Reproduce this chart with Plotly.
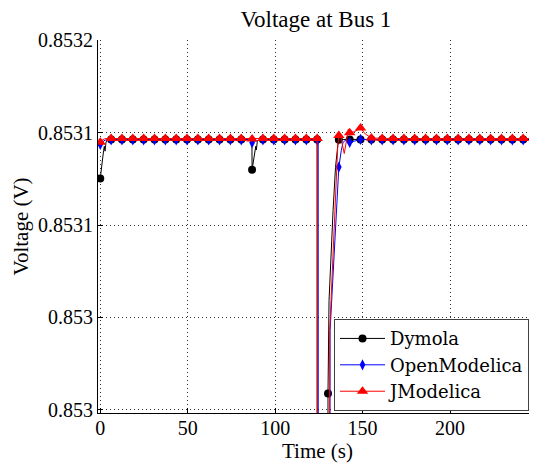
import plotly.graph_objects as go

# ---------------- data ----------------
T_MARK = [0.0, 6.2, 12.4, 18.6, 24.8, 31.0, 37.2, 43.4, 49.6, 55.8, 62.0, 68.2, 74.4, 80.6,
          86.8, 93.0, 99.2, 105.4, 111.6, 117.8, 124.0, 130.2, 136.4, 142.6, 148.8, 155.0,
          161.2, 167.4, 173.6, 179.8, 186.0, 192.2, 198.4, 204.6, 210.8, 217.0, 223.2,
          229.4, 235.6, 241.8, 248.0]

DYM_MARK = [0.8531002, 0.8531171, 0.8531171, 0.8531171, 0.8531171, 0.8531171, 0.8531171,
            0.8531171, 0.8531171, 0.8531171, 0.8531171, 0.8531171, 0.8531171, 0.8531171,
            0.8531040, 0.8531171, 0.8531171, 0.8531171, 0.8531171, 0.8531171, 0.8531171,
            0.8530070, 0.8531170, 0.8531171, 0.8531171, 0.8531171, 0.8531171, 0.8531171,
            0.8531171, 0.8531171, 0.8531171, 0.8531171, 0.8531171, 0.8531171, 0.8531171,
            0.8531171, 0.8531171, 0.8531171, 0.8531171, 0.8531171, 0.8531171]
DYM_EXTRA_T = [1.0, 1.9, 2.3, 2.7, 3.3, 4.5, 86.7, 88.6, 88.9, 89.2, 89.8, 91.0,
               124.1, 130.1, 130.8, 133.1, 134.5, 135.8]
DYM_EXTRA_V = [0.8531080, 0.8531123, 0.8531141, 0.8531120, 0.8531160, 0.8531171,
               0.8531171, 0.8531119, 0.8531141, 0.8531125, 0.8531162, 0.8531171,
               0.8527000, 0.8527000, 0.8530473, 0.8530863, 0.8531050, 0.8531145]

OM_MARK = [0.8531149, 0.8531169, 0.8531169, 0.8531169, 0.8531169, 0.8531169, 0.8531169,
           0.8531169, 0.8531169, 0.8531169, 0.8531169, 0.8531169, 0.8531169, 0.8531169,
           0.8531157, 0.8531169, 0.8531169, 0.8531169, 0.8531169, 0.8531169, 0.8531169,
           0.8527000, 0.8531051, 0.8531158, 0.8531171, 0.8531169, 0.8531169, 0.8531169,
           0.8531169, 0.8531169, 0.8531169, 0.8531169, 0.8531169, 0.8531169, 0.8531169,
           0.8531169, 0.8531169, 0.8531169, 0.8531169, 0.8531169, 0.8531169]
OM_EXTRA_T = [1.5, 3.0, 86.7, 88.5, 124.6, 124.7, 131.0, 131.4, 134.0, 135.6, 137.8,
              138.8, 140.7]
OM_EXTRA_V = [0.8531162, 0.8531169, 0.8531169, 0.8531164, 0.8531169, 0.8527000,
              0.8527000, 0.8530343, 0.8530690, 0.8530907, 0.8531123, 0.8531158, 0.8531171]

JM_MARK = [0.8531159, 0.8531175, 0.8531175, 0.8531175, 0.8531175, 0.8531175, 0.8531175,
           0.8531175, 0.8531175, 0.8531175, 0.8531175, 0.8531175, 0.8531175, 0.8531175,
           0.8531173, 0.8531175, 0.8531175, 0.8531175, 0.8531175, 0.8531175, 0.8531175,
           0.8527000, 0.8531188, 0.8531200, 0.8531220, 0.8531177, 0.8531175, 0.8531175,
           0.8531175, 0.8531175, 0.8531175, 0.8531175, 0.8531175, 0.8531175, 0.8531175,
           0.8531175, 0.8531175, 0.8531175, 0.8531175, 0.8531175, 0.8531175]
JM_EXTRA_T = [1.5, 3.0, 124.1, 130.9, 131.2, 133.8, 135.0, 135.8, 137.3, 138.5, 139.5,
              140.8, 141.8, 145.5, 151.5]
JM_EXTRA_V = [0.8531170, 0.8531175, 0.8527000, 0.8527000, 0.8530343, 0.8530777,
              0.8531037, 0.8531145, 0.8531197, 0.8531145, 0.8531110, 0.8531167,
              0.8531215, 0.8531205, 0.8531195]

Y_TICKS = [0.85316, 0.85312, 0.85308, 0.85304, 0.85300]
Y_TICK_TEXT = ["0.8532", "0.8531", "0.8531", "0.853", "0.853"]
X_TICKS = [0, 50, 100, 150, 200]

SERIES = [
    ("Dymola", DYM_MARK, DYM_EXTRA_T, DYM_EXTRA_V, "#000000", "circle", 8),
    ("OpenModelica", OM_MARK, OM_EXTRA_T, OM_EXTRA_V, "#0000ff", "diamond-tall", 8),
    ("JModelica", JM_MARK, JM_EXTRA_T, JM_EXTRA_V, "#ff0000", "triangle-up", 10),
]

FONT = "Liberation Serif"
LEGEND_FONT = "DejaVu Serif"

fig = go.Figure()
for name, mk, et, ev, color, symbol, msize in SERIES:
    pts = sorted(list(zip(T_MARK, mk)) + list(zip(et, ev)))
    fig.add_trace(go.Scatter(x=[p[0] for p in pts], y=[p[1] for p in pts], mode="lines",
                             line=dict(color=color, width=1), showlegend=False,
                             hoverinfo="skip"))
    fig.add_trace(go.Scatter(x=T_MARK, y=mk, mode="markers",
                             marker=dict(color=color, symbol=symbol, size=msize,
                                         line=dict(width=0)),
                             showlegend=False))
for name, mk, et, ev, color, symbol, msize in SERIES:
    fig.add_trace(go.Scatter(x=[None], y=[None], mode="lines+markers", name=name,
                             line=dict(color=color, width=1),
                             marker=dict(color=color, symbol=symbol, size=msize,
                                         line=dict(width=0))))

# the page body adds an 8px offset, so the figure is sized to fill the rest of the window
fig.update_layout(
    width=529, height=458,
    margin=dict(l=90, r=0, t=32, b=53, autoexpand=False),
    paper_bgcolor="white", plot_bgcolor="white",
    font=dict(family=FONT, size=20, color="black"),
    title=dict(text="Voltage at Bus 1", x=0.582, xanchor="center", y=0.976,
               yanchor="middle", font=dict(family=FONT, size=23, color="black")),
    legend=dict(x=0.5376, y=0.2514, xanchor="left", yanchor="top",
                bgcolor="white", bordercolor="#404040", borderwidth=1,
                font=dict(family=LEGEND_FONT, size=18, color="black"),
                itemwidth=45, tracegroupgap=0),
    showlegend=True,
)
fig.update_xaxes(
    range=[-1.3, 249.7], tickvals=X_TICKS, ticks="inside", ticklen=5,
    tickcolor="black", showline=True, linecolor="black", linewidth=1,
    showgrid=True, gridcolor="#303030", gridwidth=1, griddash="1px,3px",
    zeroline=False, mirror=False, automargin=False, ticklabelstandoff=-3,
    title=dict(text="Time (s)", standoff=0, font=dict(family=FONT, size=21)),
    tickfont=dict(family=FONT, size=20),
)
fig.update_yaxes(
    range=[0.8529985, 0.8531602], tickvals=Y_TICKS, ticktext=Y_TICK_TEXT,
    ticks="inside", ticklen=5, tickcolor="black", showline=True,
    linecolor="black", linewidth=1, showgrid=True, gridcolor="#303030",
    gridwidth=1, griddash="1px,3px", zeroline=False, mirror=False, automargin=False,
    title=dict(text="Voltage (V)", standoff=3, font=dict(family=FONT, size=21)),
    tickfont=dict(family=FONT, size=20),
)

fig.write_html("out.html")
